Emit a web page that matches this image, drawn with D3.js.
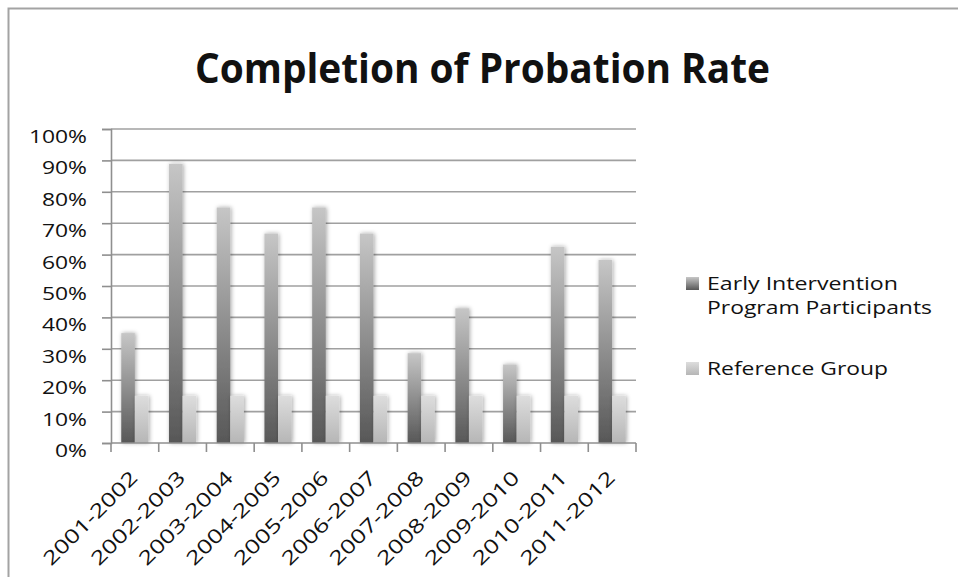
<!DOCTYPE html>
<html>
<head>
<meta charset="utf-8">
<script src="https://cdn.jsdelivr.net/npm/d3@7"></script>
<style>
  html, body { margin: 0; padding: 0; background: #fff; }
  svg { display: block; }
  text { font-family: "Open Sans", "Noto Sans", sans-serif; fill: #111; }
</style>
</head>
<body>
<svg id="chart" width="958" height="577"></svg>
<script>
// ---- data ----
const categories = ["2001-2002", "2002-2003", "2003-2004", "2004-2005", "2005-2006", "2006-2007",
                    "2007-2008", "2008-2009", "2009-2010", "2010-2011", "2011-2012"];
const earlyIntervention = [0.35, 0.889, 0.75, 0.667, 0.75, 0.667, 0.286, 0.429, 0.25, 0.625, 0.583];
const referenceGroup = [0.15, 0.15, 0.15, 0.15, 0.15, 0.15, 0.15, 0.15, 0.15, 0.15, 0.15];
const seriesNames = ["Early Intervention Program Participants", "Reference Group"];
const legendLines = [["Early Intervention", "Program Participants"], ["Reference Group"]];
const yTicks = [0, 0.1, 0.2, 0.3, 0.4, 0.5, 0.6, 0.7, 0.8, 0.9, 1.0];
const title = "Completion of Probation Rate";

// ---- layout ----
const svg = d3.select("#chart");
const plot = { left: 111, right: 636, top: 129, bottom: 443 };

function fit(sel, target) {
  sel.attr("textLength", target).attr("lengthAdjust", "spacingAndGlyphs");
}

// defs: gradients + shadow
const defs = svg.append("defs");
const gDark = defs.append("linearGradient").attr("id", "gDark")
  .attr("x1", 0).attr("y1", 1).attr("x2", 0).attr("y2", 0);
gDark.append("stop").attr("offset", "0%").attr("stop-color", "#575757");
gDark.append("stop").attr("offset", "100%").attr("stop-color", "#c6c6c6");
const gLight = defs.append("linearGradient").attr("id", "gLight")
  .attr("x1", 0).attr("y1", 1).attr("x2", 0).attr("y2", 0);
gLight.append("stop").attr("offset", "0%").attr("stop-color", "#b6b6b6");
gLight.append("stop").attr("offset", "100%").attr("stop-color", "#dddddd");
const shadow = defs.append("filter").attr("id", "shadow")
  .attr("x", "-50%").attr("y", "-20%").attr("width", "200%").attr("height", "140%");
shadow.append("feDropShadow").attr("dx", 1).attr("dy", 0).attr("stdDeviation", 2)
  .attr("flood-color", "#000").attr("flood-opacity", 0.35);

const fills = ["url(#gDark)", "url(#gLight)"];

// chart frame
svg.append("rect").attr("x", 8.5).attr("y", 8.5).attr("width", 980).attr("height", 600)
  .attr("fill", "none").attr("stroke", "#a3a3a3").attr("stroke-width", 2);

// title
svg.append("text").attr("x", 195).attr("y", 83)
  .attr("font-size", 41).attr("font-weight", 700).attr("fill", "#000")
  .text(title).call(fit, 575);

// scales
const x = d3.scaleBand().domain(categories).range([plot.left, plot.right])
  .paddingInner(0.43).paddingOuter(0.215);
const xSub = d3.scaleBand().domain([0, 1]).range([0, x.bandwidth()]).padding(0);
const y = d3.scaleLinear().domain([0, 1]).range([plot.bottom, plot.top]);

// gridlines
svg.append("g").selectAll("line").data(yTicks.filter(d => d > 0)).join("line")
  .attr("x1", plot.left).attr("x2", plot.right)
  .attr("y1", d => y(d)).attr("y2", d => y(d))
  .attr("stroke", "#a0a0a0").attr("stroke-width", 1.6);

// bars
const series = [earlyIntervention, referenceGroup];
const groups = svg.append("g").selectAll("g").data(categories).join("g")
  .attr("transform", d => `translate(${x(d)},0)`);
groups.selectAll("rect")
  .data((c, i) => series.map((s, k) => ({ k, v: s[i] })))
  .join("rect")
  .attr("x", d => xSub(d.k))
  .attr("width", xSub.bandwidth())
  .attr("y", d => y(d.v))
  .attr("height", d => y(0) - y(d.v))
  .attr("fill", d => fills[d.k])
  .attr("filter", "url(#shadow)");

// y axis
const yAxis = d3.axisLeft(y).tickValues(yTicks).tickSize(9).tickPadding(0)
  .tickFormat(d3.format(".0%"));
const yg = svg.append("g").attr("transform", `translate(${plot.left},0)`).call(yAxis);
yg.select(".domain").attr("stroke", "#8f8f8f").attr("stroke-width", 1.6);
yg.selectAll(".tick line").attr("stroke", "#8f8f8f").attr("stroke-width", 1.6);
yg.selectAll(".tick text")
  .attr("x", -24).attr("dy", null).attr("y", 13.5)
  .attr("font-size", 18).attr("font-family", "Open Sans").attr("fill", "#111")
  .each(function () {
    const w = this.getComputedTextLength();
    d3.select(this).attr("textLength", w * 1.27).attr("lengthAdjust", "spacingAndGlyphs");
  });

// x axis
const xg = svg.append("g").attr("transform", `translate(0,${plot.bottom})`);
const bounds = categories.map(c => x(c) - x.step() * x.paddingInner() / 2);
bounds.push(plot.right);
xg.append("line").attr("x1", plot.left).attr("x2", plot.right).attr("y1", 0).attr("y2", 0)
  .attr("stroke", "#8f8f8f").attr("stroke-width", 1.6);
xg.selectAll("line.tick").data(bounds).join("line").attr("class", "tick")
  .attr("x1", d => d).attr("x2", d => d).attr("y1", 0).attr("y2", 9)
  .attr("stroke", "#8f8f8f").attr("stroke-width", 1.6);
xg.selectAll("text").data(categories).join("text")
  .attr("transform", d => `translate(${x(d) + x.bandwidth() / 2 + 4},${36}) rotate(-45)`)
  .attr("text-anchor", "end")
  .attr("font-size", 19.5).attr("fill", "#111")
  .text(d => d)
  .call(fit, 124);

// legend
const legendY = [277, 362];
const lg = svg.append("g").selectAll("g").data(seriesNames).join("g")
  .attr("transform", (d, i) => `translate(686,${legendY[i]})`);
lg.append("rect").attr("width", 13).attr("height", 13)
  .attr("fill", (d, i) => fills[i]);
const legendWidths = [[191, 225], [181]];
lg.each(function (d, i) {
  const g = d3.select(this);
  legendLines[i].forEach((line, j) => {
    g.append("text").attr("x", 21).attr("y", 13 + j * 24)
      .attr("font-size", 18.6).attr("fill", "#111")
      .text(line).call(fit, legendWidths[i][j]);
  });
});
</script>
</body>
</html>
